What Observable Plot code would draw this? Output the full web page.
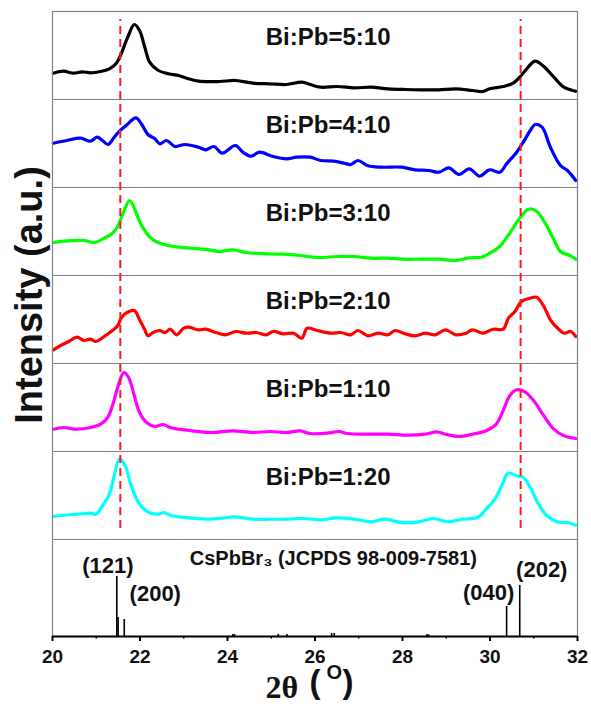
<!DOCTYPE html>
<html><head><meta charset="utf-8">
<script src="https://cdn.jsdelivr.net/npm/d3@7"></script>
<script src="https://cdn.jsdelivr.net/npm/@observablehq/plot@0.6"></script>
<style>body{margin:0;background:#fff}</style>
</head><body><div id="chart"></div>
<script>
// ---- data (2θ in degrees, intensity in a.u. within each panel) ----
const samples = ["Bi:Pb=5:10", "Bi:Pb=4:10", "Bi:Pb=3:10", "Bi:Pb=2:10", "Bi:Pb=1:10", "Bi:Pb=1:20"];
const colors = ["#000000", "#0000ff", "#00ff00", "#ff0000", "#ff00ff", "#00ffff"];

const s5_10 = [[20.02,26.3],[20.25,28.3],[20.48,26.3],[20.68,27.7],[20.87,26.7],[21.10,28],[21.30,30.7],[21.45,35.7],[21.57,45.7],[21.72,62.3],[21.87,75],[21.99,69],[22.11,52.3],[22.22,37.3],[22.42,29],[22.65,25.7],[22.88,24],[23.11,20.7],[23.34,18.3],[23.81,18],[24.19,19],[24.58,16.3],[24.97,15.7],[25.35,15],[25.70,17.3],[25.89,15],[26.13,12.3],[26.51,13],[26.90,11.7],[27.28,12.3],[27.67,10.7],[28.06,10],[28.44,9.7],[28.83,9.7],[29.22,10.7],[29.60,9],[29.84,8],[29.99,10.7],[30.30,13],[30.53,16.3],[30.68,22.3],[30.84,30.7],[31.03,38.3],[31.23,33],[31.46,22.3],[31.69,12.3],[31.96,8.3]];
const s4_10 = [[20.02,44.3],[20.33,47],[20.64,49.3],[20.87,46.3],[21.02,50.3],[21.14,47],[21.27,43],[21.41,50.3],[21.53,56.3],[21.68,62],[21.91,69.7],[22.03,63.7],[22.18,53],[22.34,48.7],[22.45,43.7],[22.61,47],[22.80,41],[23.03,43],[23.34,40.3],[23.50,37.7],[23.69,41],[23.88,34.3],[24.18,42],[24.35,35.3],[24.54,31.3],[24.73,35.3],[25.04,31],[25.35,28.7],[25.58,30.3],[25.89,30.3],[26.13,27],[26.43,26.3],[26.67,24.3],[26.82,23],[26.98,27],[27.21,21.7],[27.52,20.3],[27.98,20.3],[28.29,17.7],[28.60,17],[28.83,15.3],[29.06,19.7],[29.29,13],[29.53,18.7],[29.76,11.3],[29.99,17.7],[30.22,15.3],[30.38,23.7],[30.61,35.3],[30.76,45.3],[30.92,57],[31.03,63],[31.19,60.3],[31.38,40.3],[31.61,22],[31.77,17],[31.96,7]];
const s3_10 = [[20.02,33],[20.33,34.7],[20.72,35],[20.95,33],[21.18,37.3],[21.37,42.3],[21.49,49],[21.60,60.7],[21.76,75],[21.87,67.3],[21.99,54],[22.15,42.3],[22.30,35.7],[22.57,30.7],[22.88,28.3],[23.19,27.3],[23.58,25.7],[23.81,24],[24.12,25.7],[24.43,23],[24.89,21.7],[25.28,21.3],[25.66,20],[26.05,18],[26.51,19],[26.90,19],[27.28,17.3],[27.67,17.3],[27.98,16.3],[28.44,16.3],[28.83,16.3],[29.22,15],[29.53,17.7],[29.80,18.3],[29.99,22.3],[30.22,29],[30.45,42.3],[30.68,57.3],[30.88,66.3],[31.07,64],[31.26,52.3],[31.46,35.7],[31.61,24],[31.84,19.7],[31.96,16.3]];
const s2_10 = [[20.02,13.7],[20.17,17.7],[20.37,22],[20.56,26.3],[20.72,23],[20.87,24.3],[20.99,22],[21.18,27],[21.37,33],[21.49,37.7],[21.57,45.3],[21.68,50.3],[21.87,53],[21.99,43.7],[22.11,33.7],[22.18,27.7],[22.30,31],[22.45,33],[22.57,31],[22.69,34.3],[22.84,28.7],[23.00,35.3],[23.11,36.3],[23.34,33.7],[23.50,34.3],[23.73,31],[23.96,28.7],[24.19,32],[24.43,30.3],[24.66,31],[24.89,28.7],[25.04,32],[25.28,29.7],[25.51,30.3],[25.70,25.3],[25.82,35.3],[26.05,33],[26.36,30.3],[26.59,31],[26.82,28.7],[26.98,33],[27.21,27.7],[27.44,30.3],[27.67,28.7],[27.83,33],[28.06,29.7],[28.29,27.7],[28.52,30.3],[28.75,28.7],[28.98,33.7],[29.22,28.7],[29.45,30.3],[29.60,33.7],[29.84,30.3],[30.07,34.3],[30.30,34.3],[30.42,45.3],[30.57,52],[30.72,62],[30.92,65.3],[31.07,66.3],[31.23,57],[31.38,43.7],[31.53,36],[31.69,30.3],[31.84,32],[31.96,27]];
const s1_10 = [[20.02,22.3],[20.25,24],[20.56,22.3],[20.87,24],[21.10,27.3],[21.26,34],[21.37,45.7],[21.49,64],[21.63,79],[21.74,74],[21.87,55.7],[21.99,39],[22.15,29],[22.34,25],[22.53,27],[22.69,24],[22.88,22.3],[23.19,20.7],[23.65,19],[24.12,20.7],[24.58,19],[24.97,20],[25.35,19],[25.66,20.7],[25.89,18],[26.28,18.3],[26.55,20],[26.74,18],[27.21,17.3],[27.67,17.3],[28.13,16.3],[28.52,17.3],[28.79,19.7],[28.98,17.3],[29.29,15],[29.60,17.3],[29.91,20.7],[30.14,27.3],[30.30,40.7],[30.45,55.7],[30.61,61.7],[30.80,59.7],[31.00,50.7],[31.23,35.7],[31.46,22.3],[31.69,15.7],[31.96,13]];
const s1_20 = [[20.02,23],[20.25,24.3],[20.56,25.3],[20.87,26.3],[20.99,25.3],[21.14,33.7],[21.30,45.3],[21.41,63.7],[21.53,80.3],[21.66,73.7],[21.80,53.7],[21.99,35.3],[22.18,27.7],[22.42,25.3],[22.53,27],[22.73,23.7],[23.03,22],[23.50,20.3],[23.81,21],[24.16,22.7],[24.58,20.3],[24.97,20.3],[25.35,20.3],[25.74,21],[26.13,19.7],[26.51,21.7],[26.90,20.3],[27.28,17.7],[27.59,20.3],[27.98,17],[28.37,17.7],[28.71,21],[29.06,17.7],[29.37,20.3],[29.72,22],[29.91,30.3],[30.11,40.3],[30.30,57],[30.41,66.3],[30.61,63.7],[30.76,62],[30.92,52],[31.11,35.3],[31.30,23.7],[31.53,17.7],[31.77,17],[31.96,14.3]];
const series = [s5_10, s4_10, s3_10, s2_10, s1_10, s1_20];

// CsPbBr3 reference pattern (JCPDS 98-009-7581): [2θ, relative intensity]
const refSticks = [[21.47,60],[21.50,19],[21.64,17],[24.12,2],[24.16,2],[25.16,2],[25.36,2],[26.38,3],[26.44,3],[28.56,2],[28.60,1.5],[30.38,30],[30.68,51]];
const refLabel = "CsPbBr\u2083 (JCPDS 98-009-7581)";
const hkl = [["(121)", 21.47], ["(200)", 21.64], ["(040)", 30.38], ["(202)", 30.68]];
const peakLines = [21.55, 30.70];
const majorTicks = [20, 22, 24, 26, 28, 30, 32];
const minorTicks = [21, 23, 25, 27, 29, 31];

// ---- layout (stacked panels in y units = px) ----
const REF_H = 97, PANEL_H = 88;
const off = i => REF_H + (samples.length - 1 - i) * PANEL_H;
const sepY = d3.range(samples.length).map(i => off(i));
const stickH = new Map(refSticks.map(d => [d[0], d[1]]));
const hklOffsets = {"(121)": [-9, -11], "(200)": [31, -26], "(040)": [-18, -14], "(202)": [22, -16]};

const sans = "'Liberation Sans', Arial, sans-serif";
const marks = [];
series.forEach((s, i) => {
  marks.push(Plot.line(s, {x: d => d[0], y: d => off(i) + d[1], stroke: colors[i], strokeWidth: 3.2, curve: "catmull-rom", strokeLinejoin: "round"}));
});
const xl = {frameAnchor: "bottom-left", textAnchor: "start", lineAnchor: "bottom", fill: "#111", fontWeight: "bold"};
marks.push(
  Plot.ruleY(sepY, {stroke: "#808080", strokeWidth: 1}),
  Plot.frame({stroke: "#808080", strokeWidth: 1.2}),
  Plot.ruleX(refSticks, {x: d => d[0], y1: 0, y2: d => d[1], stroke: "black", strokeWidth: 1.6}),
  Plot.ruleX(peakLines, {y1: 108, y2: 617, stroke: "#ff1a1a", strokeWidth: 2, strokeDasharray: "8,5"}),
  Plot.text(samples, {x: 26.3, y: (d, i) => off(i) + 62, text: d => d, fontSize: 24, fontWeight: "bold", fill: "#111"}),
  Plot.text([refLabel], {x: 26.42, y: 78, text: d => d, fontSize: 20, fontWeight: "bold", fill: "#111"}),
  ...hkl.map(([lab, t]) => Plot.text([lab], {x: t, y: stickH.get(t), text: d => d, dx: hklOffsets[lab][0], dy: hklOffsets[lab][1], fontSize: 22, fontWeight: "bold", fill: "#111"})),
  Plot.ruleY([0], {stroke: "black", strokeWidth: 2}),
  Plot.axisX({ticks: majorTicks, tickFormat: d => String(d), tickSize: 5, tickPadding: 8, fontSize: 19, fontWeight: "bold", strokeWidth: 2, label: null, fill: "#111"}),
  Plot.axisX({ticks: minorTicks, tickFormat: () => "", tickSize: 2.5, strokeWidth: 1.5, label: null}),
  Plot.text(["Intensity (a.u.)"], {frameAnchor: "left", textAnchor: "middle", rotate: -90, dx: -23, dy: -29, fontSize: 38, fontWeight: "bold", fill: "#111"}),
  Plot.text(["2\u03b8"], {...xl, dx: 213, dy: 61, fontSize: 32, fontFamily: "'Liberation Serif', 'Times New Roman', serif"}),
  Plot.text(["("], {...xl, dx: 257, dy: 56, fontSize: 33}),
  Plot.text(["O"], {...xl, dx: 274, dy: 42, fontSize: 20}),
  Plot.text([")"], {...xl, dx: 290, dy: 56, fontSize: 33})
);

const chart = Plot.plot({
  width: 591, height: 706,
  marginTop: 11, marginRight: 14, marginBottom: 70, marginLeft: 52,
  style: {fontFamily: sans, background: "#fff", overflow: "visible"},
  x: {domain: [20, 32]},
  y: {domain: [0, 625], axis: null},
  marks
});
document.getElementById("chart").appendChild(chart);
</script>
</body></html>
